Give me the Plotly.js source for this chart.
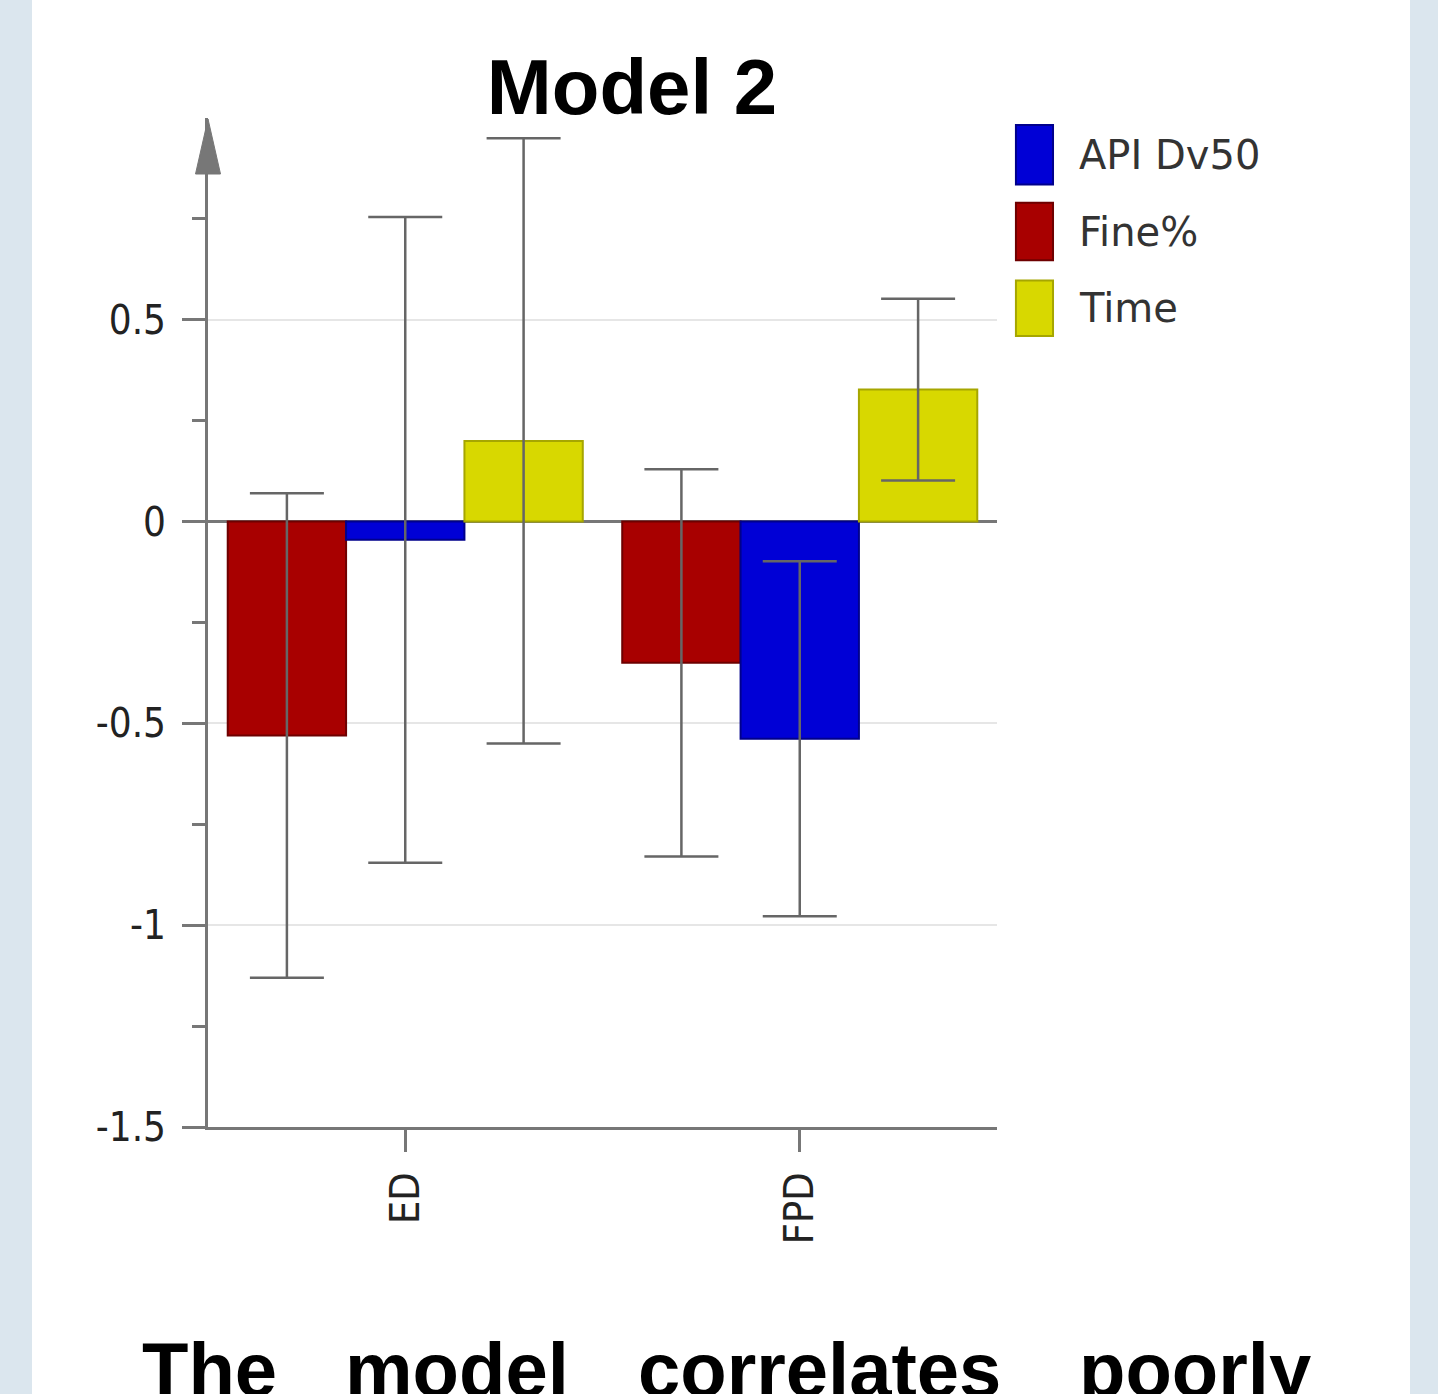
<!DOCTYPE html>
<html>
<head>
<meta charset="utf-8">
<script src="https://cdn.plot.ly/plotly-3.0.1.min.js"></script>
<style>
  html, body { margin: 0; padding: 0; background: #dbe6ee; width: 1438px; height: 1394px; overflow: hidden; }
  #chart { position: absolute; left: 32px; top: 0; width: 1378px; height: 1394px; background: #ffffff; overflow: hidden; }
</style>
</head>
<body>
<div id="chart"></div>
<script>
// ---- data ----
const categories = ["ED", "FPD"];
const seriesNames = ["Fine%", "API Dv50", "Time"];
const fineValues = [-0.53, -0.35];
const fineErrors = [0.60, 0.48];
const apiValues = [-0.045, -0.538];
const apiErrors = [0.80, 0.44];
const timeValues = [0.20, 0.327];
const timeErrors = [0.75, 0.225];
const yTickVals = [-1.5, -1, -0.5, 0, 0.5];
const yTickText = ["-1.5", "-1", "-0.5", "0", "0.5"];
const yMinorVals = [-1.25, -0.75, -0.25, 0.25, 0.75];
const legendOrder = ["API Dv50", "Fine%", "Time"];
const titleText = "Model 2";
const captionWords = ["The", "model", "correlates", "poorly"];

// ---- styles ----
const fills = { "Fine%": "#a80000", "API Dv50": "#0000d6", "Time": "#d8d800" };
const edges = { "Fine%": "#6e0000", "API Dv50": "#00008c", "Time": "#a6a600" };
const errStyle = { color: "#666666", thickness: 2.5, width: 37 };
const tickFontFamily = "DejaVu Sans Condensed, DejaVu Sans, sans-serif";

function barTrace(name, vals, errs) {
  return {
    type: "bar", name: name, x: categories, y: vals,
    marker: { color: fills[name], line: { color: edges[name], width: 2 } },
    error_y: Object.assign({ type: "data", array: errs, visible: true }, errStyle),
    showlegend: false, hoverinfo: "x+y+name"
  };
}

const traces = [
  barTrace(seriesNames[0], fineValues, fineErrors),
  barTrace(seriesNames[1], apiValues, apiErrors),
  barTrace(seriesNames[2], timeValues, timeErrors)
];

// custom legend (swatches + labels) in paper coordinates
const shapes = [];
const annotations = [];
const swTop = [0.993, 0.916, 0.839];
const swBot = [0.934, 0.859, 0.784];
legendOrder.forEach((n, i) => {
  shapes.push({ type: "rect", xref: "paper", yref: "paper", x0: 1.024, x1: 1.071, y0: swBot[i], y1: swTop[i],
    fillcolor: fills[n], line: { color: edges[n], width: 2 } });
  annotations.push({ xref: "paper", yref: "paper", x: 1.101, y: (swTop[i] + swBot[i]) / 2, xanchor: "left", yanchor: "middle",
    text: n, showarrow: false, font: { family: "DejaVu Sans", size: 40, color: "#333333" } });
});

// axis arrow head at top of y axis
shapes.push({ type: "path", xref: "paper", yref: "paper", xsizemode: "pixel", ysizemode: "pixel",
  xanchor: 0, yanchor: 1.0, path: "M -12.5 -56 L 0 -1 L 12.5 -56 Z",
  fillcolor: "#777777", line: { color: "#777777", width: 1 } });

// caption words (justified line at bottom, cut by the page edge as in the reference)
const captionX = [108, 311, 604, 1045];
captionWords.forEach((w, i) => {
  annotations.push({ xref: "paper", yref: "paper", x: (captionX[i] - 176) / 789, y: (1127 - 1414) / 1009,
    xanchor: "left", yanchor: "bottom", text: w, showarrow: false,
    font: { family: "Liberation Sans", size: 76, color: "#000000", weight: "bold" } });
});

const layout = {
  width: 1378, height: 1394,
  margin: { l: 176, r: 413, t: 118, b: 267 },
  paper_bgcolor: "#ffffff", plot_bgcolor: "#ffffff",
  title: { text: "<b>" + titleText + "</b>", x: (600) / 1378, xanchor: "center", y: 1 - 87 / 1394, yanchor: "middle",
    font: { family: "Liberation Sans", size: 78, color: "#000000" } },
  barmode: "group", bargap: 0.1, bargroupgap: 0,
  showlegend: false,
  xaxis: {
    type: "category", range: [-0.5, 1.5], showline: true, linecolor: "#777777", linewidth: 3,
    ticks: "outside", ticklen: 22, tickwidth: 3, tickcolor: "#777777",
    tickangle: -90, ticklabelstandoff: 4,
    tickfont: { family: tickFontFamily, size: 41, color: "#222222" },
    showgrid: false, zeroline: false, fixedrange: true
  },
  yaxis: {
    range: [-1.5, 1.0], showline: true, linecolor: "#777777", linewidth: 3,
    tickmode: "array", tickvals: yTickVals, ticktext: yTickText,
    ticks: "outside", ticklen: 23, tickwidth: 3, tickcolor: "#777777",
    ticklabelstandoff: 8,
    tickfont: { family: tickFontFamily, size: 40, color: "#222222" },
    showgrid: true, gridcolor: "#e6e6e6", gridwidth: 2,
    zeroline: true, zerolinecolor: "#777777", zerolinewidth: 3,
    minor: { tickmode: "array", tickvals: yMinorVals, ticks: "outside", ticklen: 13, tickwidth: 3, tickcolor: "#777777", showgrid: false },
    fixedrange: true
  },
  shapes: shapes,
  annotations: annotations
};

Plotly.newPlot("chart", traces, layout, { displayModeBar: false, staticPlot: true });
</script>
</body>
</html>
